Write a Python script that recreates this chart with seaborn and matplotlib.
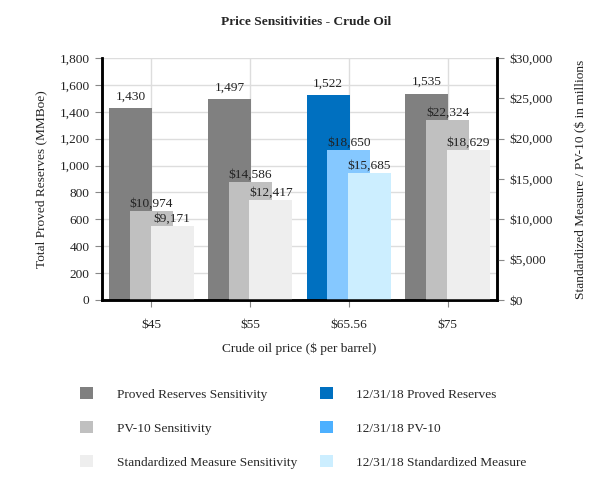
import numpy as np
import pandas as pd
import seaborn as sns
import matplotlib.pyplot as plt
from matplotlib.patches import Patch

# ============================================================
# DATA
# ============================================================

prices = ["$45", "$55", "$65.56", "$75"]
proved_reserves = [1430, 1497, 1522, 1535]          # MMBoe (left axis)
pv10 = [10974, 14586, 18650, 22324]                 # $ millions (right axis)
std_measure = [9171, 12417, 15685, 18629]           # $ millions (right axis)

current_idx = 2  # 12/31/18 column

grey_cols = ["#808080", "#C0C0C0", "#EEEEEE"]
blue_cols = ["#0070C0", "#85C8FF", "#CCEEFF"]

# ============================================================
# STYLE
# ============================================================

sns.set_style("white")
plt.rcParams["font.family"] = ["Liberation Serif", "DejaVu Serif"]
fs = 9.6
plt.rcParams["font.size"] = fs

fig = plt.figure(figsize=(6.13, 4.96), dpi=100)
ax = fig.add_axes([102 / 613, 1 - 300 / 496, 395 / 613, 242 / 496])
ax2 = ax.twinx()

pos = np.arange(len(prices))
off = 0.21
w = 0.435


def colors_for(k):
    return [blue_cols[k] if i == current_idx else grey_cols[k] for i in pos]


def draw(axis, values, shift, k):
    df = pd.DataFrame({"x": pos + shift, "y": values, "c": pos})
    sns.barplot(data=df, x="x", y="y", hue="c", palette=colors_for(k),
                native_scale=True, width=w, legend=False, ax=axis,
                saturation=1, linewidth=0, zorder=2)


draw(ax, proved_reserves, -off, 0)
draw(ax2, pv10, 0, 1)
draw(ax2, std_measure, off, 2)

# value labels
txt = "#222222"
for i in pos:
    ax.text(i - off, proved_reserves[i] + 85, f"{proved_reserves[i]:,}",
            ha="center", va="center", fontsize=fs, color=txt, zorder=5)
    ax2.text(i, pv10[i] + 900, f"\\${pv10[i]:,}",
             ha="center", va="center", fontsize=fs, color=txt, zorder=5)
    ax2.text(i + off, std_measure[i] + 900, f"\\${std_measure[i]:,}",
             ha="center", va="center", fontsize=fs, color=txt, zorder=5)

# axes limits & ticks
ax.set_xlim(-0.5, 3.5)
ax.set_ylim(0, 1800)
ax2.set_ylim(0, 30000)
ax.set_yticks(range(0, 1801, 200))
ax.set_yticklabels([f"{v:,}" for v in range(0, 1801, 200)])
ax2.set_yticks(range(0, 30001, 5000))
ax2.set_yticklabels([f"\\${v:,}" for v in range(0, 30001, 5000)])
ax.set_xticks(pos)
ax.set_xticklabels([p.replace("$", "\\$") for p in prices])

ax.set_axisbelow(True)
ax.grid(True, color="#DDDDDD", linewidth=1)
ax2.grid(False)
ax2.patch.set_visible(False)

for a in (ax, ax2):
    a.spines["top"].set_visible(False)
    for s in ("left", "right", "bottom"):
        a.spines[s].set_linewidth(1.8)
        a.spines[s].set_color("black")
    a.tick_params(axis="both", direction="out", length=5, width=0.8,
                  color="#888888", labelsize=fs, labelcolor=txt, pad=4)
ax.tick_params(axis="x", pad=9)
ax.tick_params(left=True, bottom=True)
ax2.tick_params(right=True)

ax.set_xlabel("Crude oil price (\\$ per barrel)", fontsize=fs, labelpad=8,
              color=txt)
ax.set_ylabel("Total Proved Reserves (MMBoe)", fontsize=fs, labelpad=9,
              color=txt)
ax2.set_ylabel("Standardized Measure / PV-10 (\\$ in millions", fontsize=fs,
               labelpad=12, color=txt)
ax2.yaxis.set_label_coords(1 + 78 / 395, 0.5)

fig.text(0.5, 1 - 22 / 496, "Price Sensitivities - Crude Oil",
         ha="center", va="center", fontsize=fs, fontweight="bold")

# legend
labels = ["Proved Reserves Sensitivity", "PV-10 Sensitivity",
          "Standardized Measure Sensitivity", "12/31/18 Proved Reserves",
          "12/31/18 PV-10", "12/31/18 Standardized Measure"]
legend_cols = grey_cols + ["#0070C0", "#4DB0FF", "#CCEEFF"]
handles = [Patch(facecolor=c, edgecolor="none") for c in legend_cols]
fig.legend(handles, labels, loc="upper left",
           bbox_to_anchor=(80 / 613, 1 - 387 / 496), ncol=2, frameon=False,
           fontsize=fs, handlelength=1.0, handleheight=1.0,
           handletextpad=1.75, columnspacing=1.7, labelspacing=1.55,
           borderpad=0, borderaxespad=0)

plt.savefig("out.png", dpi=100)
